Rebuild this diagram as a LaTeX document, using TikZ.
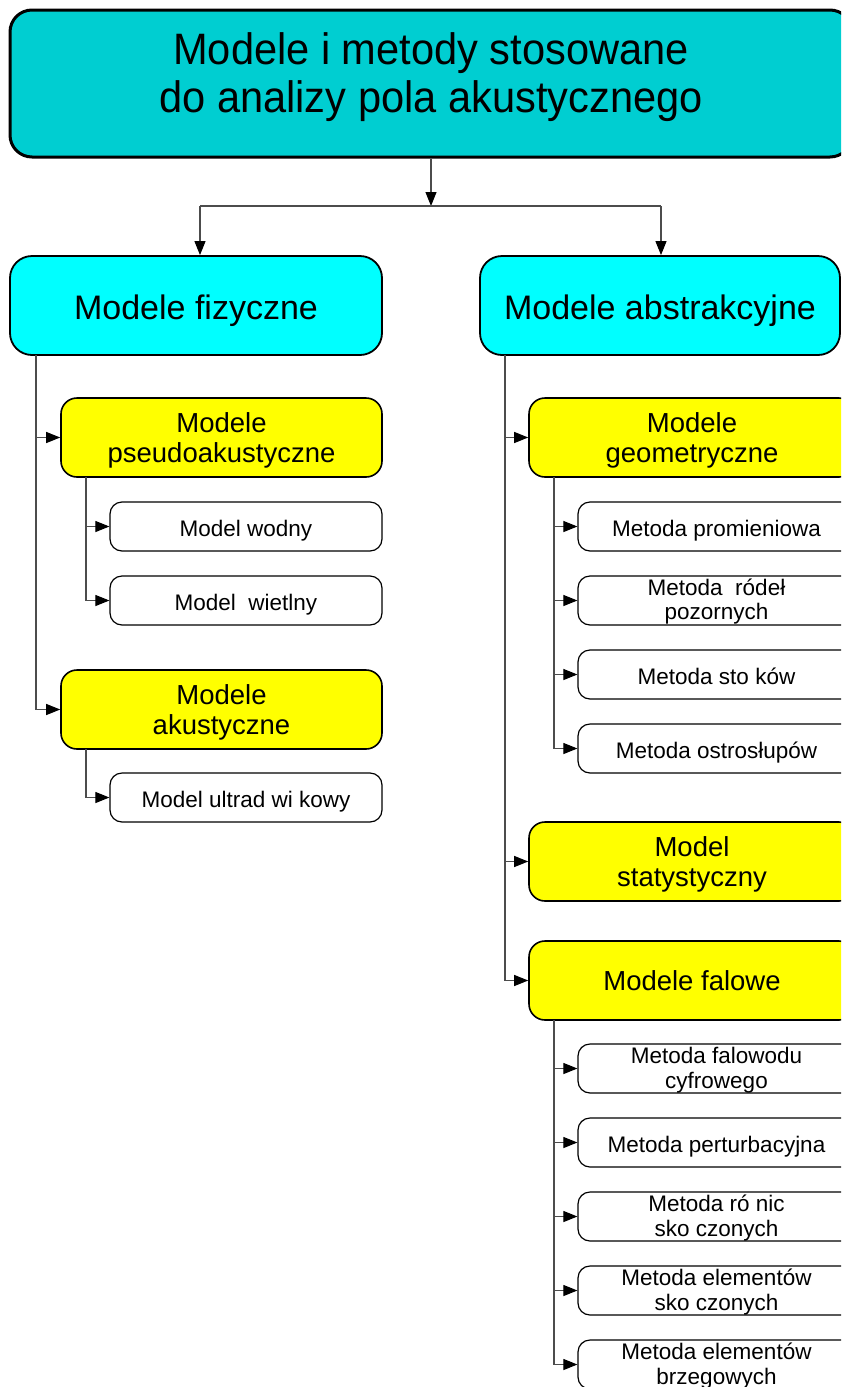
\documentclass[tikz,border=0pt]{standalone}
\usepackage{fontspec}
\setmainfont{Liberation Sans}
\newfontfamily\titlefont[FakeStretch=0.945]{Liberation Sans}
\usetikzlibrary{arrows.meta}
\definecolor{titlefill}{RGB}{0,206,209}
\definecolor{headfill}{RGB}{0,255,255}
\definecolor{groupfill}{RGB}{255,255,0}
\begin{document}
\begin{tikzpicture}[x=1pt,y=-1pt,
  box/.style={draw=black, align=center, inner sep=0pt},
  % invisible struts and fixed text boxes that set where the text sits
  padtop/.style={execute at begin node={\rule{0pt}{#1}}},
  padbottom/.style={execute at end node={\rule[-#1]{0pt}{0pt}}},
  twoline/.style={text height=#1, text depth=0pt},
  titlebox/.style={box, fill=titlefill, line width=3pt, rounded corners=22pt,
    font=\titlefont\fontsize{44}{48}\selectfont, padbottom=21pt},
  headbox/.style={box, fill=headfill, line width=1.8pt, rounded corners=22pt,
    minimum height=99pt, font=\fontsize{34}{38}\selectfont, padtop=36pt},
  groupbox/.style={box, fill=groupfill, line width=1.6pt, rounded corners=16pt,
    minimum height=79pt, font=\fontsize{27.5}{29.5}\selectfont},
  leafbox/.style={box, fill=white, line width=1.2pt, rounded corners=12pt,
    minimum height=49pt, font=\fontsize{22.5}{24.5}\selectfont},
  conn/.style={draw=black!70, line width=1.1pt},
  arr/.style={conn, -{Triangle[length=14pt,width=11pt,color=black]}}
]
\useasboundingbox (0,0) rectangle (841,1387);
\clip (0,0) rectangle (841,1387);

% title
\node[titlebox, minimum width=842pt, minimum height=147pt] (top) at (431,83.5)
  {Modele i metody stosowane\\do analizy pola akustycznego};

% two main branches
\node[headbox, minimum width=372pt] (fiz) at (196,305.5) {Modele fizyczne};
\node[headbox, minimum width=360pt] (abs) at (660,305.5) {Modele abstrakcyjne};

% physical models
\node[groupbox, twoline=49pt, minimum width=321pt] (pseudo) at (221.5,437.5) {Modele\\pseudoakustyczne};
\node[leafbox, padtop=25pt, minimum width=272pt] (wodny) at (246,526.5) {Model wodny};
\node[leafbox, padtop=25pt, minimum width=272pt] (swiat) at (246,600.5) {Model~~wietlny};
\node[groupbox, twoline=49pt, minimum width=321pt] (akust) at (221.5,709.5) {Modele\\akustyczne};
\node[leafbox, padtop=25pt, minimum width=272pt] (ultra) at (246,797.5) {Model ultrad wi kowy};

% abstract models
\node[groupbox, twoline=49pt, minimum width=326pt] (geom) at (692,437.5) {Modele\\geometryczne};
\node[leafbox, padtop=25pt, minimum width=277pt] (prom) at (716.5,526.5) {Metoda promieniowa};
\node[leafbox, twoline=38pt, minimum width=277pt] (zrod) at (716.5,600.5) {Metoda~~ródeł\\pozornych};
\node[leafbox, padtop=20pt, minimum width=277pt] (stoz) at (716.5,674.5) {Metoda sto ków};
\node[leafbox, padtop=25pt, minimum width=277pt] (ostr) at (716.5,748.5) {Metoda ostrosłupów};
\node[groupbox, twoline=49pt, minimum width=326pt] (stat) at (692,861.5) {Model\\statystyczny};
\node[groupbox, minimum width=326pt] (fal) at (692,980.5) {Modele falowe};
\node[leafbox, twoline=39pt, minimum width=277pt] (falw) at (716.5,1068.5) {Metoda falowodu\\cyfrowego};
\node[leafbox, padtop=25pt, minimum width=277pt] (pert) at (716.5,1142.5) {Metoda perturbacyjna};
\node[leafbox, twoline=39pt, minimum width=277pt] (rozn) at (716.5,1216.5) {Metoda ró nic\\sko czonych};
\node[leafbox, twoline=39pt, minimum width=277pt] (elem) at (716.5,1290.5) {Metoda elementów\\sko czonych};
\node[leafbox, twoline=39pt, minimum width=277pt] (brzg) at (716.5,1364.5) {Metoda elementów\\brzegowych};

% split below the title
\coordinate (split) at (431,206);
\coordinate (hl) at (200,206);
\coordinate (hr) at (661,206);
\draw[arr] (top.south) -- (split);
\draw[conn] (hl) -- (hr);
\draw[arr] (hl) -- (hl |- fiz.north);
\draw[arr] (hr) -- (hr |- abs.north);

% trunks of the physical branch
\coordinate (lt) at (36,355);
\draw[arr] (lt) |- (pseudo.west);
\draw[arr] (lt) |- (akust.west);
\coordinate (pt) at (86,477);
\draw[arr] (pt) |- (wodny.west);
\draw[arr] (pt) |- (swiat.west);
\coordinate (at) at (86,749);
\draw[arr] (at) |- (ultra.west);

% trunks of the abstract branch
\coordinate (rt) at (505,355);
\draw[arr] (rt) |- (geom.west);
\draw[arr] (rt) |- (stat.west);
\draw[arr] (rt) |- (fal.west);
\coordinate (gt) at (554,477);
\draw[arr] (gt) |- (prom.west);
\draw[arr] (gt) |- (zrod.west);
\draw[arr] (gt) |- (stoz.west);
\draw[arr] (gt) |- (ostr.west);
\coordinate (ft) at (554,1020);
\draw[arr] (ft) |- (falw.west);
\draw[arr] (ft) |- (pert.west);
\draw[arr] (ft) |- (rozn.west);
\draw[arr] (ft) |- (elem.west);
\draw[arr] (ft) |- (brzg.west);
\end{tikzpicture}
\end{document}
